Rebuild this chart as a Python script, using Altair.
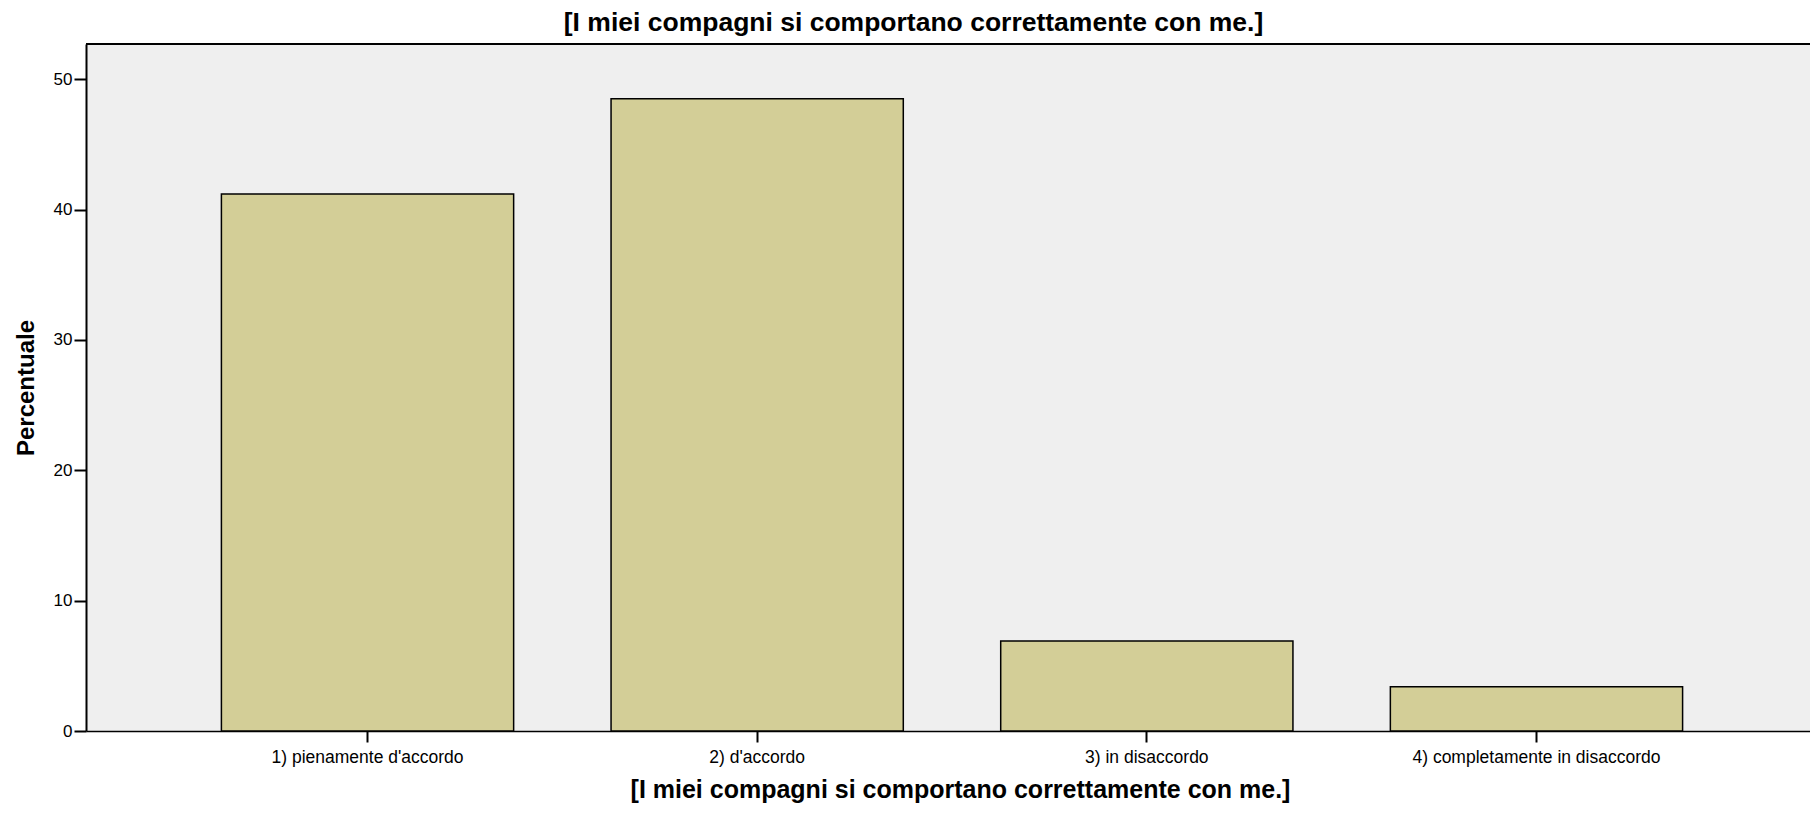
import altair as alt
import pandas as pd

categories = ["1) pienamente d'accordo", "2) d'accordo", "3) in disaccordo",
              "4) completamente in disaccordo"]
percent = [41.2, 48.5, 6.9, 3.4]
title_text = "[I miei compagni si comportano correttamente con me.]"
y_label = "Percentuale"
y_ticks = [0, 10, 20, 30, 40, 50]

df = pd.DataFrame({"cat": categories, "pct": percent})
one = pd.DataFrame({"a": [0]})

W = 1724
H = 687
FONT = "Liberation Sans"

bars = alt.Chart(df).mark_bar(
    color="#D3CE97", stroke="#000000", strokeWidth=1.5
).encode(
    x=alt.X(
        "cat:N", sort=categories,
        scale=alt.Scale(range=[0, 1732], paddingInner=0.25, paddingOuter=0.3475),
        axis=alt.Axis(
            title=title_text, labelAngle=0, labelFontSize=17.5, labelFont=FONT,
            labelColor="#000000", labelPadding=6, labelLimit=600,
            domainColor="#000000", domainWidth=1.5,
            tickColor="#000000", tickWidth=2, tickSize=11,
            titleFont=FONT, titleFontSize=25, titleFontWeight="bold",
            titleColor="#000000", titleBaseline="alphabetic", titleY=66, titleX=874,
            grid=False,
        ),
    ),
    y=alt.Y(
        "pct:Q",
        scale=alt.Scale(domain=[0, 52.7], nice=False, zero=True),
        axis=alt.Axis(
            title=y_label, values=y_ticks, labelFontSize=17, labelFont=FONT,
            labelColor="#000000", labelPadding=2,
            domainColor="#000000", domainWidth=2,
            tickColor="#000000", tickWidth=2, tickSize=12,
            titleFont=FONT, titleFontSize=24, titleFontWeight="bold",
            titleColor="#000000", titleBaseline="alphabetic",
            titleX=-53, titleY=H / 2, titleAngle=270,
            grid=False,
        ),
    ),
)

top_border = alt.Chart(one).mark_rule(color="#000000", strokeWidth=2).encode(
    x=alt.value(0), x2=alt.value(W), y=alt.value(0)
)

title = alt.Chart(one).mark_text(
    text=title_text, font=FONT, fontSize=26.5, fontWeight="bold",
    baseline="alphabetic", align="center", color="#000000"
).encode(x=alt.value(827.5), y=alt.value(-13))

chart = alt.layer(bars, top_border, title).properties(
    width=W, height=H,
    padding={"left": 78, "top": 36, "right": 0, "bottom": 74},
    autosize=alt.AutoSizeParams(type="none"),
    background="#FFFFFF",
).configure_view(fill="#EFEFEF", strokeWidth=0)

chart.save("out.html", embed_options={"renderer": "svg", "actions": False})
